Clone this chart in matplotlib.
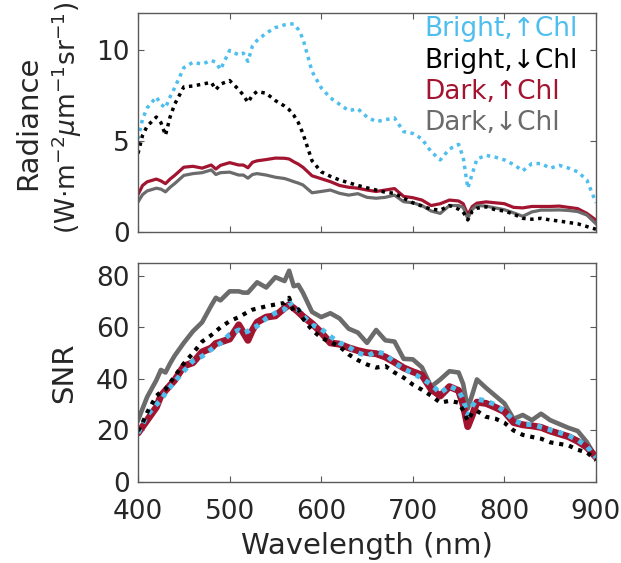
import matplotlib
matplotlib.use("Agg")
import matplotlib.pyplot as plt
import numpy as np

wavelength = [400, 405, 410, 420, 425, 430, 435, 440, 450, 460, 470, 480, 485, 490, 500,
              510, 515, 520, 525, 530, 540, 550, 560, 565, 570, 575, 580, 590, 600, 610,
              620, 630, 640, 650, 660, 670, 680, 690, 700, 710, 720, 730, 740, 750, 755,
              760, 765, 770, 780, 790, 800, 810, 820, 830, 840, 850, 860, 870, 880, 890, 900]

# Radiance (W m-2 um-1 sr-1)
rad_bright_hi = [5.1, 6.2, 6.8, 7.4, 7.0, 6.8, 7.4, 7.9, 9.0, 9.3, 9.2, 9.4, 9.3, 8.9, 9.95,
                 9.7, 9.8, 9.35, 10.2, 10.5, 10.9, 11.2, 11.35, 11.4, 11.4, 11.1, 10.6, 8.8, 7.9, 7.35,
                 7.0, 6.65, 6.75, 6.3, 6.05, 6.15, 6.25, 5.5, 5.4, 5.1, 4.4, 3.95, 4.55, 4.8, 4.1,
                 2.4, 3.2, 4.0, 4.2, 4.1, 3.95, 3.7, 3.35, 3.75, 3.75, 3.5, 3.65, 3.5, 3.3, 2.85, 1.6]
rad_bright_lo = [4.3, 5.3, 5.8, 6.3, 6.0, 5.3, 6.3, 7.0, 7.95, 8.0, 8.1, 8.2, 7.8, 8.1, 8.3,
                 7.8, 7.5, 7.1, 7.5, 7.7, 7.6, 7.2, 6.9, 6.7, 6.4, 6.0, 5.4, 3.9, 3.3, 3.05,
                 2.85, 2.7, 2.55, 2.42, 2.3, 2.18, 2.12, 1.85, 1.6, 1.42, 1.25, 1.2, 1.45, 1.25, 1.1,
                 0.66, 1.15, 1.3, 1.38, 1.22, 1.15, 0.98, 0.75, 0.7, 0.75, 0.66, 0.6, 0.52, 0.45, 0.3, 0.15]
rad_dark_hi = [2.05, 2.55, 2.75, 2.9, 2.8, 2.65, 2.9, 3.1, 3.55, 3.6, 3.5, 3.67, 3.45, 3.65, 3.8,
               3.67, 3.67, 3.52, 3.82, 3.9, 3.97, 4.05, 4.04, 4.0, 3.85, 3.72, 3.55, 3.08, 2.92, 2.76,
               2.55, 2.45, 2.4, 2.3, 2.22, 2.3, 2.38, 1.95, 1.88, 1.75, 1.45, 1.55, 1.75, 1.7, 1.55,
               0.95, 1.4, 1.58, 1.65, 1.6, 1.55, 1.35, 1.32, 1.4, 1.4, 1.4, 1.42, 1.35, 1.28, 1.02, 0.65]
rad_dark_lo = [1.65, 2.05, 2.25, 2.4, 2.35, 2.2, 2.45, 2.65, 3.1, 3.2, 3.25, 3.4, 3.15, 3.25, 3.28,
               3.12, 3.12, 2.95, 3.15, 3.2, 3.12, 3.0, 2.93, 2.85, 2.76, 2.68, 2.58, 2.15, 2.22, 2.3,
               2.12, 2.02, 2.1, 1.9, 1.85, 1.9, 2.02, 1.66, 1.6, 1.45, 1.15, 1.02, 1.45, 1.45, 1.35,
               0.75, 1.25, 1.45, 1.42, 1.32, 1.22, 1.05, 0.86, 1.1, 1.2, 1.2, 1.21, 1.18, 1.12, 0.93, 0.45]

# SNR
snr_bright_hi = [19, 22.5, 26, 30, 31.8, 34.5, 36.8, 39, 43, 47, 48.8, 51.5, 52.9, 53.8, 57.3,
                 59, 57.9, 58.5, 59.8, 60.5, 63.5, 65.6, 67, 70, 67.5, 66.9, 64.5, 61, 59.4, 56.5,
                 54, 52.4, 50.2, 48.9, 50.6, 49.7, 46.3, 44, 42.2, 40.2, 37.8, 34.5, 37.2, 35.5, 32,
                 26, 29.5, 32.2, 31.5, 30, 27.4, 24, 22.4, 22.3, 21.3, 20.2, 19.2, 18, 16.3, 13.8, 9.5]
snr_bright_lo = [19.8, 23, 27, 33.4, 35, 36, 38.5, 41, 46, 50, 54.5, 57, 58.5, 60, 62.4,
                 64, 65, 66, 66.9, 67.3, 68.2, 68.9, 69.5, 71.5, 66, 67, 63.5, 59, 56, 54.3,
                 52.6, 49.5, 47.3, 45.6, 44.4, 45, 42.5, 40.5, 37.8, 35.8, 33.5, 30.8, 31.5, 30.8, 27.8,
                 23.7, 27, 27.6, 25.3, 24.6, 23, 20, 18.3, 17.5, 16.8, 15.4, 14.8, 14.2, 12.5, 11.5, 8.5]
snr_dark_hi = [19, 21.5, 24, 29, 33.5, 35.5, 37.5, 39.5, 45, 46.3, 50.5, 52, 53.8, 54.3, 55.5,
               61, 58, 55, 59, 62, 64, 64.5, 67.5, 68.8, 67.5, 66, 64.3, 61.5, 58, 54,
               53.5, 52.1, 51, 50.2, 49.8, 48.5, 46.5, 44.3, 42.8, 41.5, 36, 33.4, 37, 35.5, 30,
               21.5, 26, 31, 30.5, 29, 27.3, 23.1, 22.2, 21.8, 21.2, 19.8, 18.7, 17.6, 15.8, 13.5, 9.6]
snr_dark_lo = [24, 28.5, 33, 39.5, 43.5, 42.5, 46, 49, 54, 58.5, 62, 68.5, 71.5, 70.5, 74,
               74, 73.5, 73.5, 75.5, 77.5, 75.5, 79.5, 78, 82, 76, 76.5, 73.5, 66, 64, 65.5,
               63.5, 59.5, 58, 54, 59, 55, 54.5, 47.8, 47.6, 44.5, 37, 39.8, 43, 42.5, 38,
               28.5, 34, 39.8, 36.5, 33.5, 30.5, 24.5, 26, 24, 26.5, 24, 22.5, 21, 19.8, 15.5, 9.5]

labels = ["Bright,↑Chl", "Bright,↓Chl", "Dark,↑Chl", "Dark,↓Chl"]
c_blue = "#4DBEEE"
c_black = "#000000"
c_red = "#A2142F"
c_gray = "#6B6B6B"
txt = "#262626"
frame = "#5a5a5a"

plt.rcParams["font.family"] = ["DejaVu Sans"]
plt.rcParams["mathtext.fontset"] = "dejavusans"

fig = plt.figure(figsize=(6.21, 5.63), dpi=100)
W, H = 621, 563
left, right = 138, 596
ax1 = fig.add_axes([left / W, 1 - 232 / H, (right - left) / W, 219 / H])
ax2 = fig.add_axes([left / W, 1 - 482 / H, (right - left) / W, 219 / H])

# top panel
l_red, = ax1.plot(wavelength, rad_dark_hi, color=c_red, lw=2.3, label=labels[2])
l_gray, = ax1.plot(wavelength, rad_dark_lo, color=c_gray, lw=2.3, label=labels[3])
l_blue, = ax1.plot(wavelength, rad_bright_hi, color=c_blue, lw=2.5, ls=(0, (1, 1.3)), label=labels[0])
l_black, = ax1.plot(wavelength, rad_bright_lo, color=c_black, lw=2.5, ls=(0, (1, 1.3)), label=labels[1])

# bottom panel
ax2.plot(wavelength, snr_dark_lo, color=c_gray, lw=3.3)
ax2.plot(wavelength, snr_dark_hi, color=c_red, lw=5.0, solid_capstyle="round", solid_joinstyle="round")
ax2.plot(wavelength, snr_bright_hi, color=c_blue, lw=3.6, ls=(0, (1, 1.2)))
ax2.plot(wavelength, snr_bright_lo, color=c_black, lw=3.0, ls=(0, (1, 1.4)))

for ax in (ax1, ax2):
    ax.set_xlim(400, 900)
    ax.set_xticks([400, 500, 600, 700, 800, 900])
    ax.tick_params(direction="in", length=4.3, width=0.8, color=frame, top=True, right=True,
                   labelsize=19, labelcolor=txt)
    ax.tick_params(axis="x", pad=12.5)
    ax.tick_params(axis="y", pad=6)
    for s in ax.spines.values():
        s.set_color(frame)
        s.set_linewidth(1.0)

ax1.set_ylim(0, 12)
ax1.set_yticks([0, 5, 10])
ax1.tick_params(labelbottom=False)
ax1.set_ylabel("Radiance", fontsize=21, color=txt)
ax1.yaxis.set_label_coords(-0.21, 0.5)
ax1.text(-0.118, 0.52, "(W·m$^{-2}$$\\mu$m$^{-1}$sr$^{-1}$)", transform=ax1.transAxes,
         rotation=90, ha="right", va="center", fontsize=19, color=txt)

ax2.set_ylim(0, 85)
ax2.set_yticks([0, 20, 40, 60, 80])
ax2.set_ylabel("SNR", fontsize=21, color=txt)
ax2.yaxis.set_label_coords(-0.131, 0.5)
ax2.set_xlabel("Wavelength (nm)", fontsize=21, color=txt, labelpad=4.5)

leg = ax1.legend(handles=[l_blue, l_black, l_red, l_gray], loc="upper left",
                 bbox_to_anchor=(0.625, 0.985), frameon=False, handlelength=0,
                 handletextpad=0, borderpad=0, borderaxespad=0, labelspacing=0.2,
                 fontsize=19, labelcolor="linecolor")

fig.savefig("out.png", dpi=100)
